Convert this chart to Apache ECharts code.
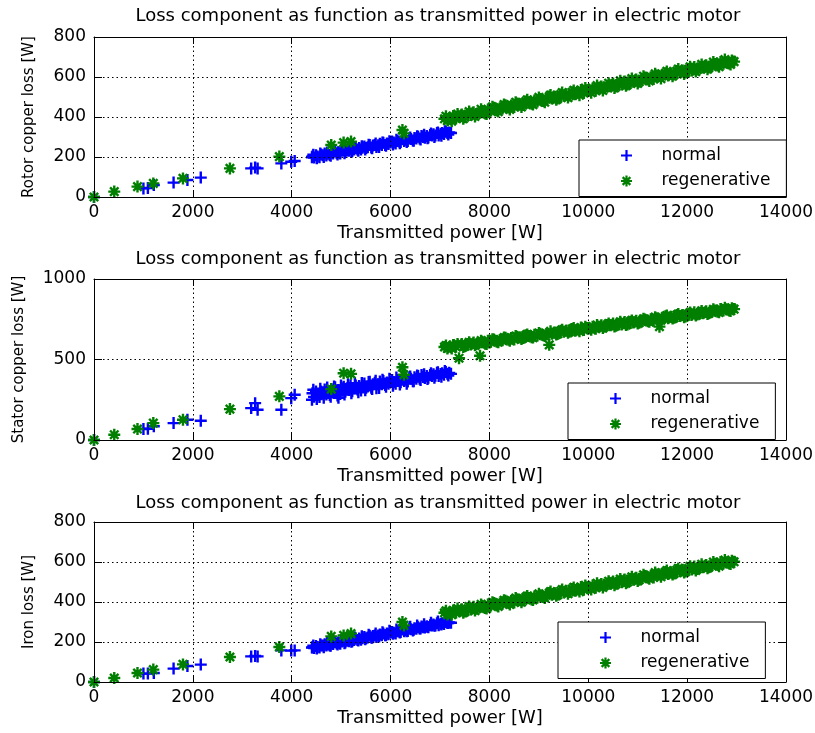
<!DOCTYPE html>
<html><head><meta charset="utf-8">
<script src="https://cdn.jsdelivr.net/npm/echarts/dist/echarts.min.js"></script>
<style>html,body{margin:0;padding:0;background:#fff}#c{width:815px;height:733px}</style>
</head><body><div id="c"></div>
<script>
// ---------- data ----------
const chartTitle = 'Loss component as function as transmitted power in electric motor';
const xAxisName = 'Transmitted power [W]';
const yAxisNames = ['Rotor copper loss [W]', 'Stator copper loss [W]', 'Iron loss [W]'];
const seriesNames = ['normal', 'regenerative'];
const xTicks = [0, 2000, 4000, 6000, 8000, 10000, 12000, 14000];
const yTicksRotor = [0, 200, 400, 600, 800];
const yTicksStator = [0, 500, 1000];
const yTicksIron = [0, 200, 400, 600, 800];

// normal driving: sparse low-power points
const powerNormalLow = [0, 1000, 1090, 1210, 1610, 1890, 2160, 3180, 3260, 3310, 3790, 3990, 4060, 4410, 4945];
const rotorNormalLow = [0, 43, 45, 60, 72, 85, 97, 143, 147, 143, 168, 176, 180, 199, 223];
const statorNormalLow = [0, 68, 70, 85, 105, 126, 120, 198, 229, 188, 188, 260, 281, 250, 262];
const ironNormalLow = [0, 42, 42, 45, 67, 80, 87, 128, 130, 128, 158, 157, 158, 172, 196];

// normal driving: dense band (core)
const powerNormalBand = [4420,4452,4491,4523,4562,4594,4628,4667,4701,4733,
 4770,4806,4838,4877,4910,4944,4981,5013,5052,5085,
 5118,5157,5190,5224,5262,5294,5331,5364,5402,5433,
 5470,5506,5538,5577,5610,5643,5682,5714,5751,5784,
 5822,5853,5891,5926,5958,5997,6030,6064,6102,6133,
 6171,6204,6241,6276,6308,6347,6380,6413,6452,6484,
 6521,6556,6588,6627,6660,6693,6732,6764,6801,6836,
 6868,6907,6940,6973,7012,7044,7081,7116,7149,7187,
 7222];
const rotorNormalBand = [203,197,209,203,199,212,209,218,208,216,210,222,218,228,219,224,217,231,234,225,233,231,241,230,237,244,237,245,237,246,253,245,249,260,248,257,260,250,259,266,260,271,260,268,265,273,278,272,268,280,278,275,289,280,286,280,292,290,282,295,292,301,293,305,300,296,305,298,310,307,314,308,320,308,316,320,315,326,320,323,320];
const statorNormalBand = [290,268,302,280,267,302,291,314,283,302,280,315,299,327,296,310,285,322,330,299,321,311,340,303,322,339,314,336,308,334,351,325,333,362,325,347,355,321,346,363,346,366,341,357,349,364,372,360,350,373,367,359,386,366,378,364,387,381,365,389,380,398,380,403,391,385,398,386,404,398,409,399,417,398,410,415,406,422,412,417,411];
const ironNormalBand = [174,170,180,175,173,183,182,189,182,188,183,194,190,199,192,197,191,202,206,198,206,204,213,204,210,216,210,218,211,219,225,219,222,231,222,230,233,225,233,238,234,243,234,242,239,246,250,246,243,254,252,250,262,254,260,255,266,264,258,269,266,274,268,278,274,272,279,274,284,282,288,283,294,284,291,294,290,300,295,298,296];

// normal driving: dense band (upper / lower spread)
const powerNormalEdge = [4437,4507,4578,4648,4718,4788,4857,4927,4997,5068,
 5138,5207,5278,5348,5418,5488,5557,5627,5698,5768,
 5837,5908,5977,6048,6118,6188,6258,6327,6397,6468,
 6538,6607,6678,6748,6818,6887,6957,7028,7098,7168];
const rotorNormalEdge = [211,194,217,200,223,206,229,213,236,219,242,225,248,231,254,238,261,244,267,250,273,256,279,262,286,269,292,275,298,281,304,287,311,294,317,300,323,306,329,312];
const statorNormalEdge = [312,255,319,262,326,269,332,276,339,283,346,290,353,297,354,309,361,316,368,323,374,330,381,337,388,344,395,350,394,365,401,372,408,379,415,386,421,393,428,400];
const ironNormalEdge = [182,167,189,174,195,181,202,187,209,194,215,201,222,208,229,214,236,221,242,228,249,234,256,241,262,248,269,254,276,261,283,268,289,275,296,281,303,288,310,295];

// regenerative: sparse low-power points
const powerRegenLow = [0, 410, 880, 1200, 1800, 2750, 3750, 4800, 5050, 5200, 6240, 6270];
const rotorRegenLow = [0, 27, 52, 68, 93, 143, 202, 260, 272, 277, 335, 318];
const statorRegenLow = [0, 33, 68, 105, 126, 192, 271, 316, 415, 411, 452, 405];
const ironRegenLow = [0, 20, 45, 62, 88, 125, 175, 228, 233, 242, 300, 283];

// regenerative: dense band (core)
const powerRegenBand = [7090,7150,7205,7268,7325,7385,7440,7502,7560,7618,
 7680,7735,7810,7852,7915,7970,8032,8090,8148,8210,
 8265,8325,8384,8440,8502,8560,8617,8678,8735,8795,
 8852,8910,8972,9030,9088,9150,9210,9262,9325,9380,
 9442,9500,9558,9620,9675,9735,9795,9852,9910,9970,
 10030,10088,10150,10205,10265,10325,10382,10440,10502,10560,
 10618,10675,10735,10792,10852,10910,10970,11030,11088,11145,
 11205,11265,11322,11385,11440,11498,11560,11615,11675,11735,
 11792,11850,11910,11968,12030,12088,12145,12205,12265,12322,
 12385,12440,12500,12560,12615,12675,12735,12792,12850,12905,
 12950];
const rotorRegenBand = [391,382,395,405,394,401,412,399,414,410,424,413,422,430,418,437,432,446,433,444,442,459,447,458,450,468,462,460,477,474,466,483,478,490,480,490,502,492,501,492,512,506,514,507,524,514,523,535,520,534,531,543,531,543,553,544,556,554,567,553,565,562,577,562,580,576,587,576,588,597,587,599,590,607,605,605,619,608,618,612,630,624,632,622,640,633,650,637,649,647,659,647,657,665,658,675,666,674,668,682,677];
const statorRegenBand = [578,568,581,590,579,508,596,582,596,593,606,595,523,611,598,616,611,624,611,621,619,635,622,633,624,642,636,634,650,646,638,654,649,660,650,659,591,660,668,659,678,672,680,672,689,678,687,698,683,696,693,704,691,703,712,703,714,712,724,710,722,718,733,717,735,730,740,729,740,749,738,750,740,756,704,753,768,756,766,759,776,770,777,767,784,777,793,779,791,788,800,787,798,805,797,814,804,812,805,819,813];
const ironRegenBand = [346,337,349,358,348,354,364,352,366,363,376,366,374,381,370,387,382,395,383,393,391,406,395,405,398,414,409,408,423,420,413,428,423,434,425,434,445,436,444,436,454,448,456,450,465,456,464,475,461,474,471,482,471,481,490,482,493,491,503,491,502,499,512,499,515,511,521,511,522,530,521,531,523,538,537,537,550,540,549,543,560,554,561,552,568,562,577,565,576,574,585,574,584,591,585,600,592,599,593,606,601];

// regenerative: dense band (upper / lower spread)
const powerRegenEdge = [7120,7237,7355,7471,7589,7708,7831,7943,8061,8179,
 8295,8412,8531,8648,8765,8881,9001,9119,9236,9352,
 9471,9589,9705,9822,9940,10059,10177,10295,10411,10530,
 10647,10763,10881,11000,11117,11235,11353,11470,11588,11705,
 11821,11939,12059,12175,12293,12412,12530,12645,12763,12878];
const rotorRegenEdge = [404,379,415,391,427,403,439,415,451,427,462,438,474,450,486,462,498,474,510,486,522,497,533,509,545,521,557,533,569,545,581,556,592,568,604,580,616,592,628,604,640,615,651,627,663,639,675,651,687,663];
const statorRegenEdge = [587,568,597,578,607,588,617,597,626,607,636,617,646,627,656,636,665,646,675,656,685,666,695,675,704,685,714,695,724,705,734,714,743,724,753,734,763,744,773,754,782,763,792,773,802,783,812,793,821,802];
const ironRegenEdge = [356,336,367,346,377,357,388,367,399,378,409,388,420,399,430,410,441,420,452,431,462,441,473,452,483,463,494,473,504,484,515,494,526,505,536,516,547,526,557,537,568,547,579,558,589,569,600,579,610,590];

// ---------- build ----------
function zip(xs, ys) { return xs.map((x, i) => [x, ys[i]]); }
const FONT = 'DejaVu Sans';
const BLUE = '#0000ff', GREEN = '#007f00';
const PLUS = 'path://M-1.2,-6h2.4v4.8h4.8v2.4h-4.8v4.8h-2.4v-4.8h-4.8v-2.4h4.8z';
const STAR = 'path://M-1.2,-6h2.4v4.8h4.8v2.4h-4.8v4.8h-2.4v-4.8h-4.8v-2.4h4.8zM-3.35,-5.05L5.05,3.35L3.35,5.05L-5.05,-3.35zM3.35,-5.05L5.05,-3.35L-3.35,5.05L-5.05,3.35z';

const normalX = powerNormalLow.concat(powerNormalBand, powerNormalEdge);
const regenX = powerRegenLow.concat(powerRegenBand, powerRegenEdge);
const panels = [
  { yTicks: yTicksRotor, nameGap: 57, grid: { top: 37, height: 160 }, titleTop: 6.5, legend: { top: 140, left: 579 },
    normal: zip(normalX, rotorNormalLow.concat(rotorNormalBand, rotorNormalEdge)),
    regen: zip(regenX, rotorRegenLow.concat(rotorRegenBand, rotorRegenEdge)) },
  { yTicks: yTicksStator, nameGap: 67, grid: { top: 279, height: 161 }, titleTop: 249.5, legend: { top: 383, left: 568 },
    normal: zip(normalX, statorNormalLow.concat(statorNormalBand, statorNormalEdge)),
    regen: zip(regenX, statorRegenLow.concat(statorRegenBand, statorRegenEdge)) },
  { yTicks: yTicksIron, nameGap: 57, grid: { top: 522, height: 160 }, titleTop: 493, legend: { top: 622, left: 558 },
    normal: zip(normalX, ironNormalLow.concat(ironNormalBand, ironNormalEdge)),
    regen: zip(regenX, ironRegenLow.concat(ironRegenBand, ironRegenEdge)) }
];

const plain = v => String(v);
const grid = [], xAxis = [], yAxis = [], series = [], title = [], legend = [];
const dotted = { color: '#000', width: 1, type: [1.5, 3] };
panels.forEach((p, g) => {
  grid.push({ left: 94, width: 692, top: p.grid.top, height: p.grid.height, outerBoundsMode: 'none', containLabel: false });
  title.push({ text: chartTitle, left: 438, textAlign: 'center', top: p.titleTop, padding: 0,
    textStyle: { fontFamily: FONT, fontSize: 18, fontWeight: 'normal', color: '#000', lineHeight: 20 } });
  const xMin = xTicks[0], xMax = xTicks[xTicks.length - 1], xInt = xTicks[1] - xTicks[0];
  const yMin = p.yTicks[0], yMax = p.yTicks[p.yTicks.length - 1], yInt = p.yTicks[1] - p.yTicks[0];
  xAxis.push({ type: 'value', gridIndex: g, position: 'bottom', min: xMin, max: xMax, interval: xInt,
    name: xAxisName, nameLocation: 'middle', nameGap: 27,
    nameTextStyle: { fontFamily: FONT, fontSize: 18, color: '#000' },
    axisLine: { show: true, onZero: false, lineStyle: { color: '#000', width: 1 } },
    axisTick: { show: true, inside: true, length: 7, lineStyle: { color: '#000' } },
    axisLabel: { show: true, margin: 7, formatter: plain, fontFamily: FONT, fontSize: 17, color: '#000', showMinLabel: true, showMaxLabel: true },
    splitLine: { show: true, lineStyle: dotted }, z: 3 });
  xAxis.push({ type: 'value', gridIndex: g, position: 'top', min: xMin, max: xMax, interval: xInt,
    axisLine: { show: true, onZero: false, lineStyle: { color: '#000', width: 1 } },
    axisTick: { show: true, inside: true, length: 7, lineStyle: { color: '#000' } },
    axisLabel: { show: false }, splitLine: { show: false }, z: 3 });
  yAxis.push({ type: 'value', gridIndex: g, position: 'left', min: yMin, max: yMax, interval: yInt,
    name: yAxisNames[g], nameLocation: 'middle', nameGap: p.nameGap, nameRotate: 90,
    nameTextStyle: { fontFamily: FONT, fontSize: 15, color: '#000' },
    axisLine: { show: true, onZero: false, lineStyle: { color: '#000', width: 1 } },
    axisTick: { show: true, inside: true, length: 8, lineStyle: { color: '#000' } },
    axisLabel: { show: true, margin: 8, formatter: plain, fontFamily: FONT, fontSize: 17, color: '#000', showMinLabel: true, showMaxLabel: true },
    splitLine: { show: true, lineStyle: dotted }, z: 3 });
  yAxis.push({ type: 'value', gridIndex: g, position: 'right', min: yMin, max: yMax, interval: yInt,
    axisLine: { show: true, onZero: false, lineStyle: { color: '#000', width: 1 } },
    axisTick: { show: true, inside: true, length: 8, lineStyle: { color: '#000' } },
    axisLabel: { show: false }, splitLine: { show: false }, z: 3 });
  series.push({ type: 'scatter', name: seriesNames[0], xAxisIndex: 2 * g, yAxisIndex: 2 * g,
    symbol: PLUS, symbolSize: 12, itemStyle: { color: BLUE, opacity: 1 }, data: p.normal, clip: false, z: 2 });
  series.push({ type: 'scatter', name: seriesNames[1], xAxisIndex: 2 * g, yAxisIndex: 2 * g,
    symbol: STAR, symbolSize: 12, itemStyle: { color: GREEN, opacity: 1 }, data: p.regen, clip: false, z: 2 });
  legend.push({ data: seriesNames, orient: 'vertical', left: p.legend.left, top: p.legend.top,
    padding: [7, 16, 7, 42], itemGap: 8.5, itemWidth: 60, itemHeight: 11,
    backgroundColor: '#fff', borderColor: '#000', borderWidth: 1, borderRadius: 0,
    selectedMode: false, z: 10,
    textStyle: { fontFamily: FONT, fontSize: 17, color: '#000', lineHeight: 17 } });
});

const chart = echarts.init(document.getElementById('c'), null, { renderer: 'canvas' });
chart.setOption({ animation: false, backgroundColor: '#fff', title, grid, xAxis, yAxis, legend, series, tooltip: { show: false } });
</script></body></html>
